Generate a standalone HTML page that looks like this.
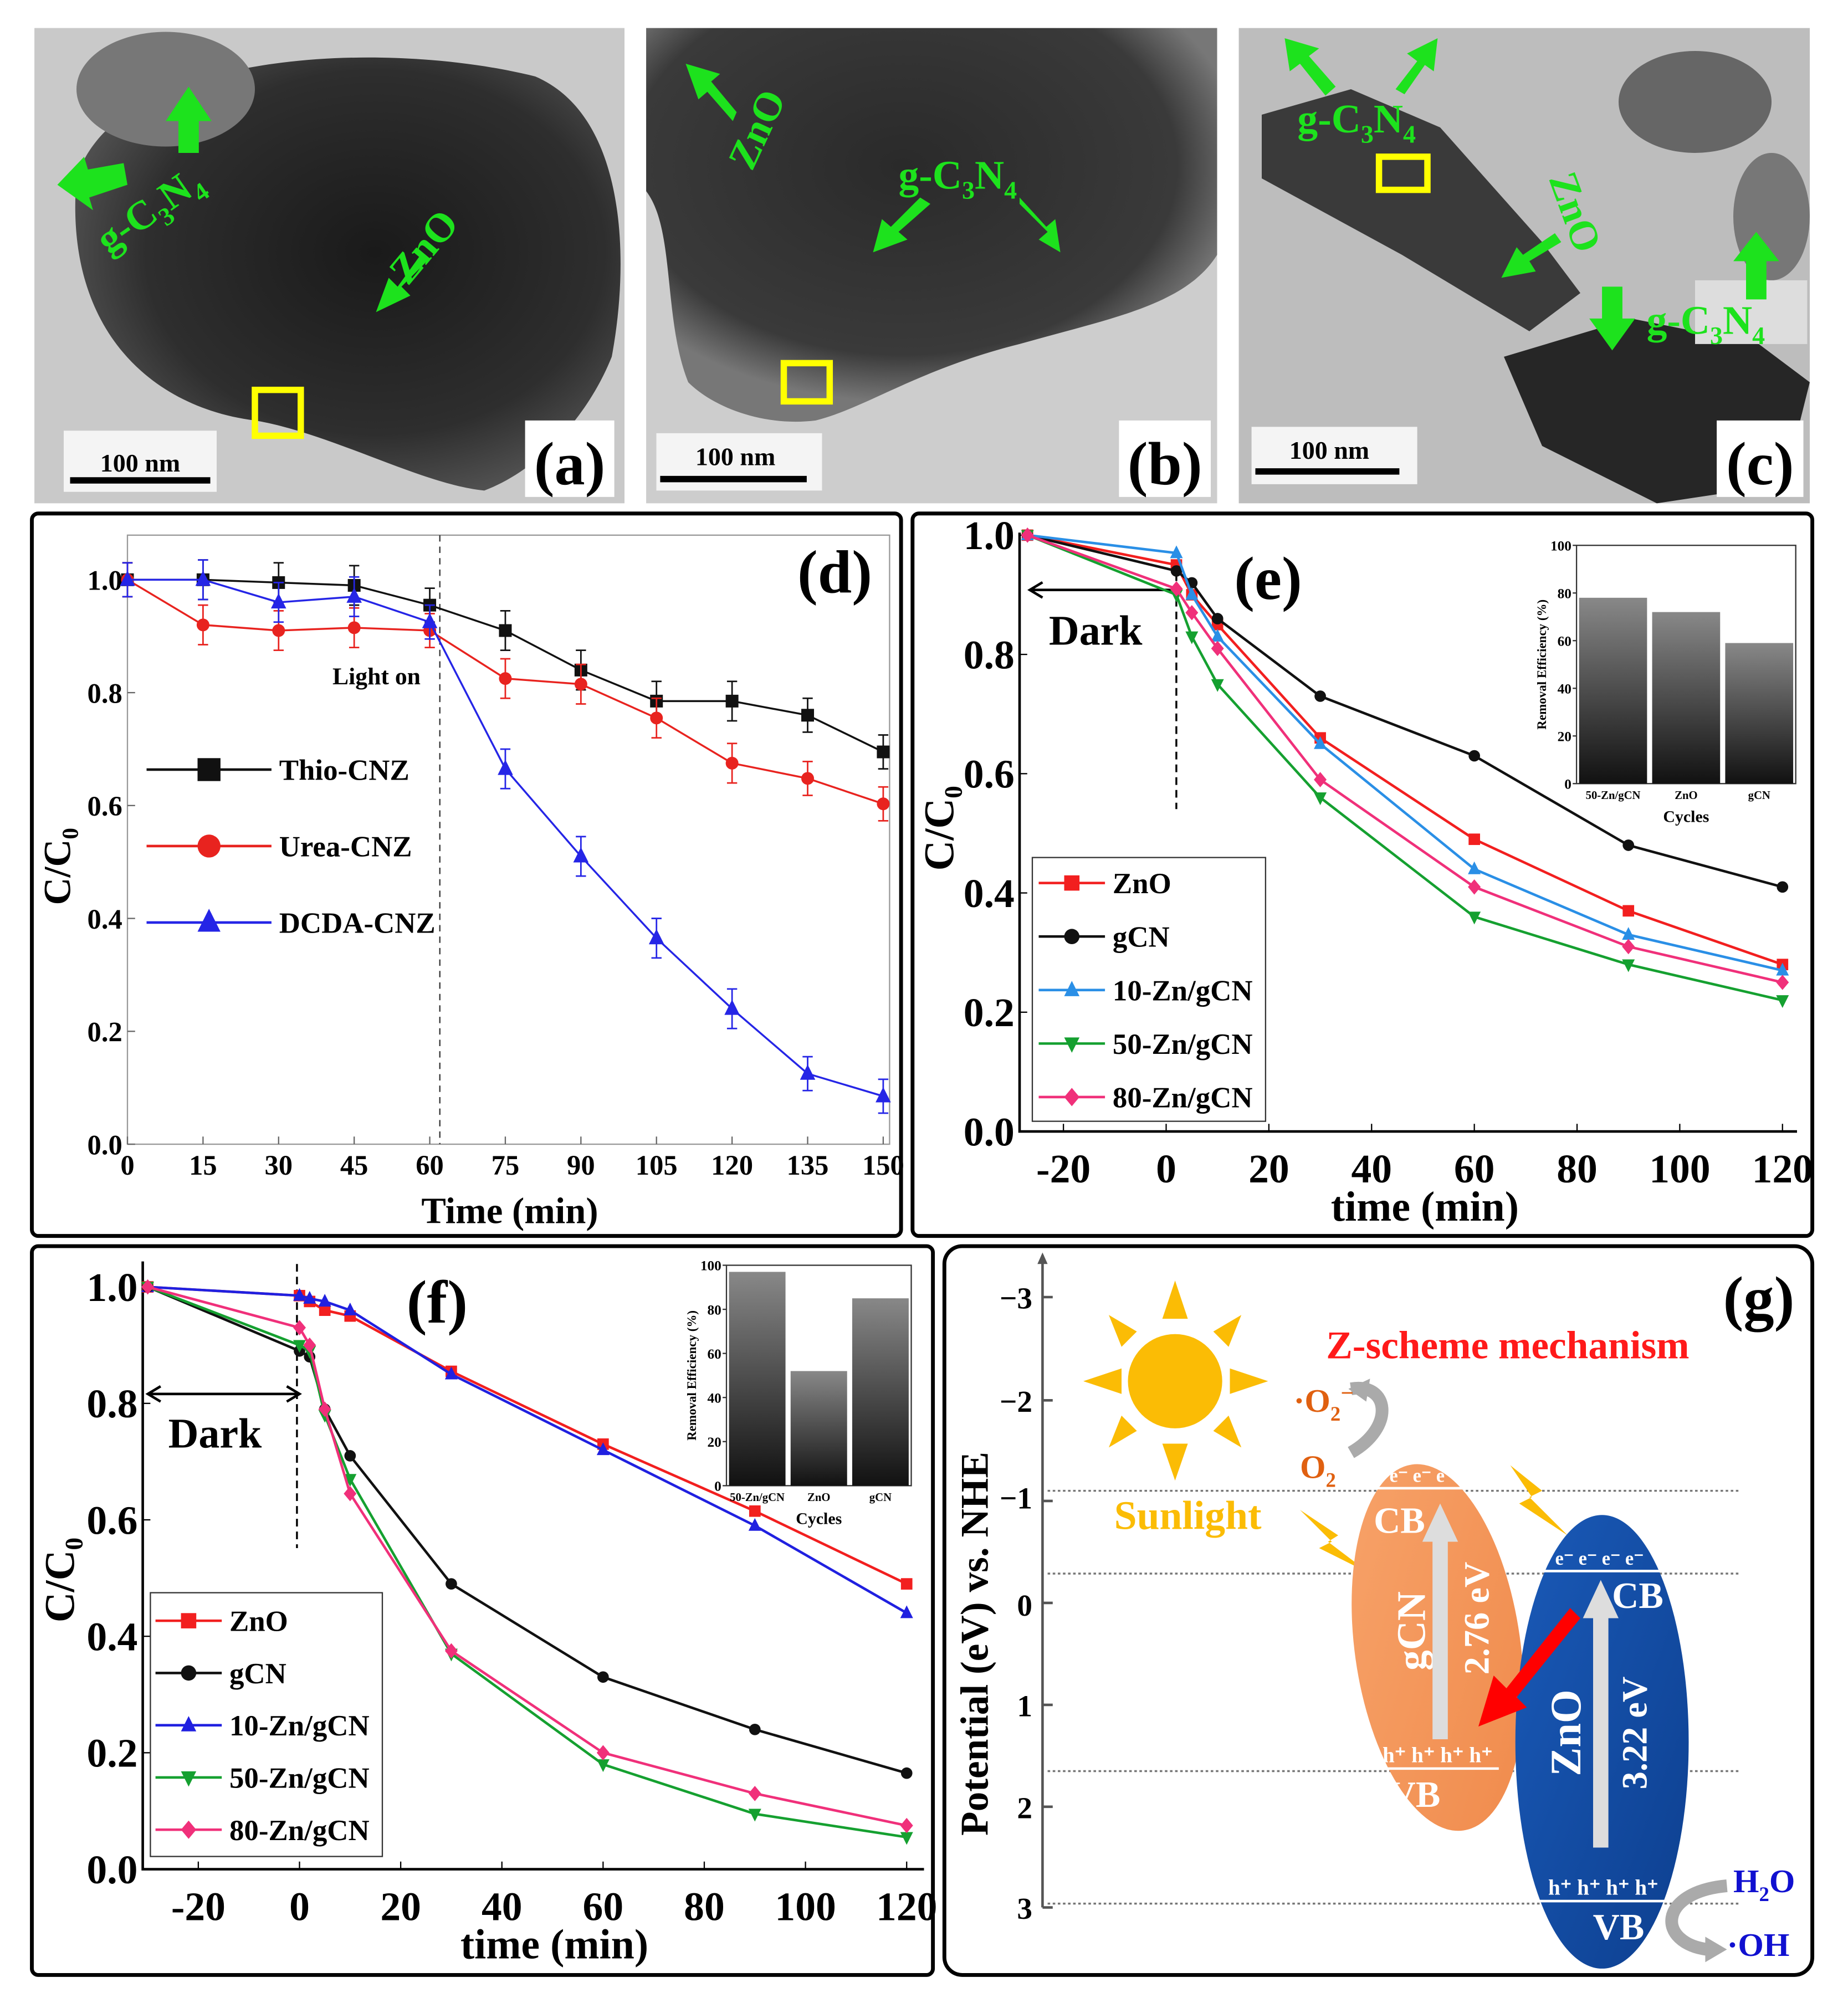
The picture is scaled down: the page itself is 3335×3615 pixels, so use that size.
<!DOCTYPE html>
<html><head><meta charset="utf-8"><style>
html,body{margin:0;padding:0;background:#fff}
svg{display:block}
text{font-family:"Liberation Serif",serif;font-weight:bold}
</style></head><body>
<svg id="fig" xmlns="http://www.w3.org/2000/svg" width="3335" height="3615" viewBox="0 0 1450 1572" preserveAspectRatio="none">
<defs>
<radialGradient id="gA" cx="0.55" cy="0.45" r="0.6"><stop offset="0" stop-color="#1a1a1a"/><stop offset="0.7" stop-color="#2e2e2e"/><stop offset="1" stop-color="#555"/></radialGradient>
<radialGradient id="gB" cx="0.45" cy="0.35" r="0.6"><stop offset="0" stop-color="#2a2a2a"/><stop offset="0.8" stop-color="#3a3a3a"/><stop offset="1" stop-color="#777"/></radialGradient>
<linearGradient id="bar" x1="0" y1="0" x2="0" y2="1"><stop offset="0" stop-color="#888"/><stop offset="1" stop-color="#111"/></linearGradient>
<linearGradient id="org" x1="0" y1="0" x2="1" y2="1"><stop offset="0" stop-color="#f7a36a"/><stop offset="1" stop-color="#f08a4b"/></linearGradient>
<linearGradient id="blu" x1="0" y1="0" x2="1" y2="1"><stop offset="0" stop-color="#1a5ab8"/><stop offset="1" stop-color="#0d3f8f"/></linearGradient>
</defs>

<!-- TEM panels -->
<g>
<rect x="27" y="22" width="463" height="373" fill="#c9c9c9"/>
<path d="M60,140 C90,40 300,30 420,60 C490,90 495,200 480,280 C460,330 420,370 380,385 C330,380 260,340 200,330 C120,320 50,260 60,140Z" fill="url(#gA)"/>
<ellipse cx="130" cy="70" rx="70" ry="45" fill="#777"/>
<rect x="50" y="338" width="120" height="48" fill="#f4f4f4"/>
<line x1="55" y1="377" x2="165" y2="377" stroke="#000" stroke-width="5"/>
<text x="110" y="370" font-size="20" text-anchor="middle">100 nm</text>
<rect x="200" y="306" width="36" height="36" fill="none" stroke="#ff0" stroke-width="5"/>
<rect x="412" y="330" width="70" height="60" fill="#fff"/>
<text x="447" y="380" font-size="48" text-anchor="middle">(a)</text>
<text x="85" y="200" font-size="32" fill="#1de21d" transform="rotate(-35 85 200)">g-C<tspan font-size="20" dy="8">3</tspan><tspan dy="-8">N</tspan><tspan font-size="20" dy="8">4</tspan></text>
<text x="320" y="225" font-size="32" fill="#1de21d" transform="rotate(-50 320 225)">ZnO</text>
<path d="M140,120 L140,95 L130,95 L148,68 L166,95 L156,95 L156,120Z" fill="#1de21d"/>
<path d="M100,145 L70,155 L73,165 L45,145 L66,123 L69,133 L97,128Z" fill="#1de21d"/>
<path d="M335,205 L315,225 L322,232 L295,245 L305,218 L312,225 L330,200Z" fill="#1de21d"/>
</g>
<g>
<rect x="507" y="22" width="448" height="373" fill="#cdcdcd"/>
<path d="M507,22 L955,22 L955,200 C930,240 870,250 800,270 C720,290 680,320 640,330 C600,335 560,320 540,300 C520,250 530,180 507,150Z" fill="url(#gB)"/>
<rect x="515" y="340" width="130" height="45" fill="#f4f4f4"/>
<line x1="518" y1="376" x2="633" y2="376" stroke="#000" stroke-width="5"/>
<text x="577" y="365" font-size="20" text-anchor="middle">100 nm</text>
<rect x="615" y="285" width="36" height="30" fill="none" stroke="#ff0" stroke-width="5"/>
<rect x="878" y="330" width="72" height="60" fill="#fff"/>
<text x="914" y="380" font-size="48" text-anchor="middle">(b)</text>
<text x="705" y="148" font-size="32" fill="#1de21d">g-C<tspan font-size="20" dy="8">3</tspan><tspan dy="-8">N</tspan><tspan font-size="20" dy="8">4</tspan></text>
<text x="590" y="135" font-size="32" fill="#1de21d" transform="rotate(-65 590 135)">ZnO</text>
<path d="M575,95 L555,72 L548,78 L538,50 L565,58 L558,64 L578,88Z" fill="#1de21d"/>
<path d="M730,160 L705,182 L712,188 L685,198 L692,172 L699,178 L722,155Z" fill="#1de21d"/>
<path d="M800,160 L822,182 L815,188 L832,198 L828,172 L821,178 L800,155Z" fill="#1de21d"/>
</g>
<g>
<rect x="972" y="22" width="448" height="373" fill="#bdbdbd"/>
<path d="M990,90 L1060,70 L1130,100 L1210,190 L1240,230 L1200,260 L1100,200 L990,140Z" fill="#3a3a3a"/>
<path d="M1180,280 L1280,250 L1380,270 L1420,300 L1400,380 L1300,395 L1210,350Z" fill="#262626"/>
<ellipse cx="1330" cy="80" rx="60" ry="40" fill="#666"/>
<ellipse cx="1390" cy="170" rx="30" ry="50" fill="#777"/>
<rect x="982" y="335" width="130" height="45" fill="#f4f4f4"/>
<line x1="985" y1="370" x2="1098" y2="370" stroke="#000" stroke-width="5"/>
<text x="1043" y="360" font-size="20" text-anchor="middle">100 nm</text>
<rect x="1082" y="123" width="38" height="26" fill="none" stroke="#ff0" stroke-width="5"/>
<rect x="1347" y="330" width="68" height="60" fill="#fff"/>
<text x="1381" y="380" font-size="48" text-anchor="middle">(c)</text>
<text x="1018" y="104" font-size="32" fill="#1de21d">g-C<tspan font-size="20" dy="8">3</tspan><tspan dy="-8">N</tspan><tspan font-size="20" dy="8">4</tspan></text>
<rect x="1330" y="220" width="88" height="50" fill="#ddd"/>
<text x="1292" y="262" font-size="32" fill="#1de21d">g-C<tspan font-size="20" dy="8">3</tspan><tspan dy="-8">N</tspan><tspan font-size="20" dy="8">4</tspan></text>
<text x="1215" y="140" font-size="32" fill="#1de21d" transform="rotate(70 1215 140)">ZnO</text>
<path d="M1040,75 L1020,50 L1012,56 L1008,30 L1035,38 L1027,44 L1048,68Z" fill="#1de21d"/>
<path d="M1095,70 L1112,48 L1104,42 L1128,30 L1125,56 L1118,51 L1102,74Z" fill="#1de21d"/>
<path d="M1225,190 L1200,205 L1205,213 L1178,218 L1190,194 L1195,200 L1220,183Z" fill="#1de21d"/>
<path d="M1257,225 L1257,250 L1247,250 L1265,275 L1283,250 L1273,250 L1273,225Z" fill="#1de21d"/>
<path d="M1370,235 L1370,205 L1360,205 L1378,182 L1396,205 L1386,205 L1386,235Z" fill="#1de21d"/>
</g>

<!-- panel frames -->
<rect x="25" y="403" width="682" height="567" rx="5" fill="none" stroke="#000" stroke-width="3"/>
<rect x="716" y="403" width="706" height="567" rx="5" fill="none" stroke="#000" stroke-width="3"/>
<rect x="25" y="978" width="707" height="572" rx="5" fill="none" stroke="#000" stroke-width="3"/>
<rect x="741" y="978" width="681" height="572" rx="14" fill="none" stroke="#000" stroke-width="3"/>

<g id="pd"></g>
<g id="pe"></g>
<g id="pf"></g>

<!-- panel g -->
<g>
<line x1="818" y1="985" x2="818" y2="1497" stroke="#555" stroke-width="2"/>
<path d="M814,992 L818,983 L822,992Z" fill="#555"/>
<g font-size="24" text-anchor="end">
<text x="810" y="1027">−3</text><text x="810" y="1108">−2</text><text x="810" y="1184">−1</text>
<text x="810" y="1268">0</text><text x="810" y="1347">1</text><text x="810" y="1427">2</text><text x="810" y="1506">3</text></g>
<g stroke="#555" stroke-width="2"><line x1="818" y1="1018" x2="826" y2="1018"/><line x1="818" y1="1099" x2="826" y2="1099"/><line x1="818" y1="1178" x2="826" y2="1178"/><line x1="818" y1="1258" x2="826" y2="1258"/><line x1="818" y1="1338" x2="826" y2="1338"/><line x1="818" y1="1418" x2="826" y2="1418"/><line x1="818" y1="1497" x2="826" y2="1497"/></g>
<text x="775" y="1290" font-size="31" text-anchor="middle" transform="rotate(-90 775 1290)">Potential (eV) vs. NHE</text>
<g stroke="#777" stroke-width="1.5" stroke-dasharray="2,2"><line x1="822" y1="1170" x2="1365" y2="1170"/><line x1="822" y1="1235" x2="1365" y2="1235"/><line x1="822" y1="1390" x2="1365" y2="1390"/><line x1="822" y1="1494" x2="1365" y2="1494"/></g>
<g fill="#fbbc05"><circle cx="922" cy="1084" r="37"/>
<path d="M922,1005 L912,1035 L932,1035Z"/><path d="M922,1162 L912,1133 L932,1133Z"/><path d="M850,1084 L880,1074 L880,1094Z"/><path d="M995,1084 L965,1074 L965,1094Z"/>
<path d="M870,1032 L892,1045 L880,1057Z"/><path d="M974,1032 L952,1045 L964,1057Z"/><path d="M870,1136 L892,1123 L880,1111Z"/><path d="M974,1136 L952,1123 L964,1111Z"/></g>
<text x="932" y="1200" font-size="32" fill="#fbbc05" text-anchor="middle">Sunlight</text>
<text x="1183" y="1066" font-size="31" fill="#ff1a1a" text-anchor="middle">Z-scheme mechanism</text>
<text x="1380" y="1035" font-size="48" text-anchor="middle">(g)</text>
<path d="M1020,1185 L1050,1205 L1042,1210 L1075,1235 L1035,1215 L1045,1210Z" fill="#fbbc05"/>
<path d="M1185,1150 L1210,1170 L1200,1175 L1230,1205 L1192,1180 L1202,1175Z" fill="#fbbc05"/>
<ellipse cx="1128" cy="1293" rx="65" ry="145" fill="url(#org)" transform="rotate(-8 1128 1293)"/>
<ellipse cx="1257" cy="1367" rx="68" ry="178" fill="url(#blu)"/>
<g fill="#fff"><line x1="1077" y1="1168" x2="1176" y2="1168" stroke="#fff" stroke-width="2"/><line x1="1077" y1="1388" x2="1176" y2="1388" stroke="#fff" stroke-width="2"/>
<line x1="1205" y1="1233" x2="1310" y2="1233" stroke="#fff" stroke-width="2"/><line x1="1205" y1="1492" x2="1310" y2="1492" stroke="#fff" stroke-width="2"/>
<text x="1125" y="1163" font-size="15" text-anchor="middle">e⁻ e⁻ e⁻ e⁻</text>
<text x="1128" y="1383" font-size="17" text-anchor="middle">h⁺ h⁺ h⁺ h⁺</text>
<text x="1255" y="1228" font-size="15" text-anchor="middle">e⁻ e⁻ e⁻ e⁻</text>
<text x="1258" y="1487" font-size="17" text-anchor="middle">h⁺ h⁺ h⁺ h⁺</text>
<text x="1098" y="1203" font-size="29" text-anchor="middle">CB</text>
<text x="1110" y="1418" font-size="29" text-anchor="middle">VB</text>
<text x="1285" y="1262" font-size="29" text-anchor="middle">CB</text>
<text x="1270" y="1522" font-size="29" text-anchor="middle">VB</text>
<text x="1118" y="1280" font-size="32" text-anchor="middle" transform="rotate(-90 1118 1280)">gCN</text>
<text x="1168" y="1270" font-size="28" text-anchor="middle" transform="rotate(-90 1168 1270)">2.76 eV</text>
<text x="1240" y="1360" font-size="34" text-anchor="middle" transform="rotate(-90 1240 1360)">ZnO</text>
<text x="1292" y="1360" font-size="28" text-anchor="middle" transform="rotate(-90 1292 1360)">3.22 eV</text></g>
<path d="M1124,1365 L1124,1210 L1116,1210 L1130,1180 L1144,1210 L1136,1210 L1136,1365Z" fill="#ddd"/>
<path d="M1250,1450 L1250,1270 L1242,1270 L1256,1240 L1270,1270 L1262,1270 L1262,1450Z" fill="#ddd"/>
<path d="M1232,1262 L1182,1325 L1172,1315 L1160,1355 L1198,1340 L1190,1332 L1240,1270Z" fill="#f00"/>
<path d="M1060,1140 C1095,1120 1090,1085 1060,1090" fill="none" stroke="#aaa" stroke-width="10"/>
<path d="M1075,1082 L1058,1090 L1072,1100Z" fill="#aaa"/>
<text x="1015" y="1108" font-size="26" fill="#e06010">·O<tspan font-size="16" dy="7">2</tspan><tspan dy="-16" font-size="18">−</tspan></text>
<text x="1020" y="1160" font-size="26" fill="#e06010">O<tspan font-size="16" dy="7">2</tspan></text>
<path d="M1355,1480 C1300,1485 1300,1525 1340,1530" fill="none" stroke="#aaa" stroke-width="10"/>
<path d="M1338,1520 L1355,1530 L1338,1540Z" fill="#aaa"/>
<text x="1360" y="1485" font-size="26" fill="#1010d0">H<tspan font-size="16" dy="7">2</tspan><tspan dy="-7">O</tspan></text>
<text x="1355" y="1535" font-size="26" fill="#1010d0">·OH</text>
</g>
</svg>
<script>
// ---------- data ----------
const dTimes=[0,15,30,45,60,75,90,105,120,135,150];
const dThio=[1.0,1.0,0.995,0.99,0.955,0.91,0.84,0.785,0.785,0.76,0.695];
const dUrea=[1.0,0.92,0.91,0.915,0.91,0.825,0.815,0.755,0.675,0.648,0.603];
const dDcda=[1.0,1.0,0.96,0.97,0.925,0.665,0.51,0.365,0.24,0.125,0.085];
const dErr=[0.03,0.035,0.035,0.035,0.03,0.035,0.035,0.035,0.035,0.03,0.03];
const dXTicks=[0,15,30,45,60,75,90,105,120,135,150];
const dYTicks=[0.0,0.2,0.4,0.6,0.8,1.0];

const eTimes=[-27,2,5,10,30,60,90,120];
const eZnO=[1.0,0.95,0.9,0.85,0.66,0.49,0.37,0.28];
const eGcn=[1.0,0.94,0.92,0.86,0.73,0.63,0.48,0.41];
const e10=[1.0,0.97,0.9,0.83,0.65,0.44,0.33,0.27];
const e50=[1.0,0.9,0.83,0.75,0.56,0.36,0.28,0.22];
const e80=[1.0,0.91,0.87,0.81,0.59,0.41,0.31,0.25];
const eXTicks=[-20,0,20,40,60,80,100,120];
const eYTicks=[0.0,0.2,0.4,0.6,0.8,1.0];
const eInsetCats=["50-Zn/gCN","ZnO","gCN"];
const eInsetVals=[78,72,59];

const fTimes=[-30,0,2,5,10,30,60,90,120];
const fZnO=[1.0,0.985,0.975,0.96,0.95,0.855,0.73,0.615,0.49];
const fGcn=[1.0,0.89,0.88,0.79,0.71,0.49,0.33,0.24,0.165];
const f10=[1.0,0.985,0.98,0.975,0.96,0.85,0.72,0.59,0.44];
const f50=[1.0,0.9,0.89,0.78,0.67,0.37,0.18,0.095,0.055];
const f80=[1.0,0.93,0.9,0.79,0.645,0.375,0.2,0.13,0.075];
const fXTicks=[-20,0,20,40,60,80,100,120];
const fYTicks=[0.0,0.2,0.4,0.6,0.8,1.0];
const fInsetCats=["50-Zn/gCN","ZnO","gCN"];
const fInsetVals=[97,52,85];

const NS="http://www.w3.org/2000/svg";
function mk(parent,tag,attrs,txt){const e=document.createElementNS(NS,tag);for(const k in attrs)e.setAttribute(k,attrs[k]);if(txt!==undefined)e.textContent=txt;parent.appendChild(e);return e;}
function marker(g,shape,x,y,c,s){
  if(shape==='sq')return mk(g,'rect',{x:x-s,y:y-s,width:2*s,height:2*s,fill:c});
  if(shape==='ci')return mk(g,'circle',{cx:x,cy:y,r:s,fill:c});
  if(shape==='tu')return mk(g,'path',{d:`M${x},${y-s*1.2}L${x+s},${y+s*0.8}L${x-s},${y+s*0.8}Z`,fill:c});
  if(shape==='td')return mk(g,'path',{d:`M${x},${y+s*1.2}L${x+s},${y-s*0.8}L${x-s},${y-s*0.8}Z`,fill:c});
  if(shape==='di')return mk(g,'path',{d:`M${x},${y-s*1.2}L${x+s},${y}L${x},${y+s*1.2}L${x-s},${y}Z`,fill:c});
}
function series(g,name,xs,ys,X,Y,c,shape,s,w,err){
  const sg=mk(g,'g',{});
  
  
  mk(sg,'path',{d:xs.map((t,i)=>(i?'L':'M')+X(t)+','+Y(ys[i])).join(''),fill:'none',stroke:c,'stroke-width':w});
  xs.forEach((t,i)=>{
    if(err){mk(sg,'path',{d:`M${X(t)},${Y(ys[i]-err[i])}V${Y(ys[i]+err[i])}M${X(t)-4},${Y(ys[i]-err[i])}h8M${X(t)-4},${Y(ys[i]+err[i])}h8`,stroke:c,'stroke-width':1.2,fill:'none'});}
    const m=marker(sg,shape,X(t),Y(ys[i]),c,s);
    
    
  });
}
function legend(g,items,x,y,dy,fs,lw,s){
  items.forEach((it,i)=>{
    const lg=mk(g,'g',{});
    
    
    const yy=y+i*dy;
    mk(lg,'line',{x1:x,y1:yy,x2:x+lw,y2:yy,stroke:it[1],'stroke-width':2});
    marker(lg,it[2],x+lw/2,yy,it[1],s);
    mk(lg,'text',{x:x+lw+6,y:yy+fs*0.35,'font-size':fs},it[0]);
  });
}
function inset(g,x0,y0,w,h,cats,vals,fs){
  const ig=mk(g,'g',{});
  
  
  mk(ig,'rect',{x:x0,y:y0,width:w,height:h,fill:'#fff',stroke:'#333','stroke-width':1});
  const Y=v=>y0+h-v/100*h;
  [0,20,40,60,80,100].forEach(v=>{mk(ig,'line',{x1:x0-3,y1:Y(v),x2:x0,y2:Y(v),stroke:'#333'});mk(ig,'text',{x:x0-4,y:Y(v)+4,'font-size':fs,'text-anchor':'end'},v);});
  const bw=w/cats.length;
  cats.forEach((c,i)=>{
    const b=mk(ig,'rect',{x:x0+i*bw+2,y:Y(vals[i]),width:bw-4,height:y0+h-Y(vals[i]),fill:'url(#bar)'});
    
    
    mk(ig,'text',{x:x0+i*bw+bw/2,y:y0+h+12,'font-size':fs-2,'text-anchor':'middle'},c);
  });
  mk(ig,'text',{x:x0+w/2,y:y0+h+30,'font-size':fs+2,'text-anchor':'middle'},'Cycles');
  const t=mk(ig,'text',{x:x0-24,y:y0+h/2,'font-size':fs-1,'text-anchor':'middle',transform:`rotate(-90 ${x0-24} ${y0+h/2})`},'Removal Efficiency (%)');
}
// ---------- panel d ----------
(function(){
  const g=document.getElementById('pd');
  const X=t=>100+t/150*593, Y=v=>898-v*443;
  mk(g,'rect',{x:100,y:420,width:598,height:478,fill:'none',stroke:'#999','stroke-width':1});
  dXTicks.forEach(t=>{mk(g,'line',{x1:X(t),y1:898,x2:X(t),y2:892,stroke:'#666'});mk(g,'text',{x:X(t),y:922,'font-size':22,'text-anchor':'middle','font-weight':'normal'},t);});
  dYTicks.forEach(v=>{mk(g,'line',{x1:100,y1:Y(v),x2:106,y2:Y(v),stroke:'#666'});mk(g,'text',{x:96,y:Y(v)+8,'font-size':22,'text-anchor':'end','font-weight':'normal'},v.toFixed(1));});
  mk(g,'line',{x1:X(62),y1:420,x2:X(62),y2:898,stroke:'#333','stroke-dasharray':'5,4'});
  mk(g,'text',{x:330,y:537,'font-size':19,'text-anchor':'end','font-weight':'normal'},'Light on');
  mk(g,'text',{x:400,y:960,'font-size':29,'text-anchor':'middle'},'Time (min)');
  mk(g,'text',{x:55,y:680,'font-size':30,'text-anchor':'middle',transform:'rotate(-90 55 680)'},'C/C₀');
  mk(g,'text',{x:655,y:465,'font-size':48,'text-anchor':'middle'},'(d)');
  series(g,'series-thio-cnz',dTimes,dThio,X,Y,'#111','sq',5,1.5,dErr);
  series(g,'series-urea-cnz',dTimes,dUrea,X,Y,'#e8231f','ci',5,1.5,dErr);
  series(g,'series-dcda-cnz',dTimes,dDcda,X,Y,'#2525e6','tu',6,1.5,dErr);
  legend(g,[['Thio-CNZ','#111','sq'],['Urea-CNZ','#e8231f','ci'],['DCDA-CNZ','#2525e6','tu']],115,604,60,23,98,9);
})();
// ---------- panel e ----------
(function(){
  const g=document.getElementById('pe');
  const X=t=>915+t*4.03, Y=v=>888-v*468;
  mk(g,'path',{d:'M800,418 V888 H1410',fill:'none',stroke:'#000','stroke-width':2});
  eXTicks.forEach(t=>{mk(g,'line',{x1:X(t),y1:888,x2:X(t),y2:882,stroke:'#000'});mk(g,'text',{x:X(t),y:928,'font-size':32,'text-anchor':'middle'},t);});
  eYTicks.forEach(v=>{mk(g,'line',{x1:800,y1:Y(v),x2:806,y2:Y(v),stroke:'#000'});mk(g,'text',{x:796,y:Y(v)+11,'font-size':32,'text-anchor':'end'},v.toFixed(1));});
  mk(g,'line',{x1:923,y1:440,x2:923,y2:635,stroke:'#000','stroke-dasharray':'6,4','stroke-width':1.5});
  mk(g,'path',{d:'M810,463 H923 M818,457 L808,463 L818,469',fill:'none',stroke:'#000','stroke-width':2});
  mk(g,'text',{x:823,y:506,'font-size':33},'Dark');
  mk(g,'text',{x:1118,y:958,'font-size':33,'text-anchor':'middle'},'time (min)');
  mk(g,'text',{x:748,y:650,'font-size':33,'text-anchor':'middle',transform:'rotate(-90 748 650)'},'C/C₀');
  mk(g,'text',{x:995,y:470,'font-size':48,'text-anchor':'middle'},'(e)');
  series(g,'series-zno',eTimes,eZnO,X,Y,'#f21f1f','sq',4.5,2);
  series(g,'series-gcn',eTimes,eGcn,X,Y,'#111','ci',4.5,2);
  series(g,'series-10-zn-gcn',eTimes,e10,X,Y,'#2a8fe6','tu',5,2);
  series(g,'series-50-zn-gcn',eTimes,e50,X,Y,'#15a030','td',5,2);
  series(g,'series-80-zn-gcn',eTimes,e80,X,Y,'#f0307a','di',5,2);
  mk(g,'rect',{x:810,y:673,width:183,height:207,fill:'#fff',stroke:'#333'});
  legend(g,[['ZnO','#f21f1f','sq'],['gCN','#111','ci'],['10-Zn/gCN','#2a8fe6','tu'],['50-Zn/gCN','#15a030','td'],['80-Zn/gCN','#f0307a','di']],815,693,42,23,52,6);
  inset(g,1237,428,172,187,eInsetCats,eInsetVals,11);
})();
// ---------- panel f ----------
(function(){
  const g=document.getElementById('pf');
  const X=t=>235+t*3.97, Y=v=>1467-v*457;
  mk(g,'path',{d:'M112,990 V1467 H725',fill:'none',stroke:'#000','stroke-width':2});
  fXTicks.forEach(t=>{mk(g,'line',{x1:X(t),y1:1467,x2:X(t),y2:1461,stroke:'#000'});mk(g,'text',{x:X(t),y:1507,'font-size':32,'text-anchor':'middle'},t);});
  fYTicks.forEach(v=>{mk(g,'line',{x1:112,y1:Y(v),x2:118,y2:Y(v),stroke:'#000'});mk(g,'text',{x:108,y:Y(v)+11,'font-size':32,'text-anchor':'end'},v.toFixed(1));});
  mk(g,'line',{x1:233,y1:992,x2:233,y2:1215,stroke:'#000','stroke-dasharray':'6,4','stroke-width':1.5});
  mk(g,'path',{d:'M118,1094 H233 M126,1088 L116,1094 L126,1100 M225,1088 L235,1094 L225,1100',fill:'none',stroke:'#000','stroke-width':2});
  mk(g,'text',{x:132,y:1136,'font-size':33},'Dark');
  mk(g,'text',{x:435,y:1537,'font-size':33,'text-anchor':'middle'},'time (min)');
  mk(g,'text',{x:58,y:1240,'font-size':33,'text-anchor':'middle',transform:'rotate(-90 58 1240)'},'C/C₀');
  mk(g,'text',{x:343,y:1038,'font-size':48,'text-anchor':'middle'},'(f)');
  series(g,'series-zno',fTimes,fZnO,X,Y,'#f21f1f','sq',4.5,2);
  series(g,'series-10-zn-gcn',fTimes,f10,X,Y,'#2020e0','tu',5,2);
  series(g,'series-gcn',fTimes,fGcn,X,Y,'#111','ci',4.5,2);
  series(g,'series-50-zn-gcn',fTimes,f50,X,Y,'#15a030','td',5,2);
  series(g,'series-80-zn-gcn',fTimes,f80,X,Y,'#f0307a','di',5,2);
  mk(g,'rect',{x:118,y:1250,width:182,height:207,fill:'#fff',stroke:'#333'});
  legend(g,[['ZnO','#f21f1f','sq'],['gCN','#111','ci'],['10-Zn/gCN','#2020e0','tu'],['50-Zn/gCN','#15a030','td'],['80-Zn/gCN','#f0307a','di']],122,1272,41,23,52,6);
  inset(g,570,993,145,173,fInsetCats,fInsetVals,11);
})();
</script>
</body></html>
